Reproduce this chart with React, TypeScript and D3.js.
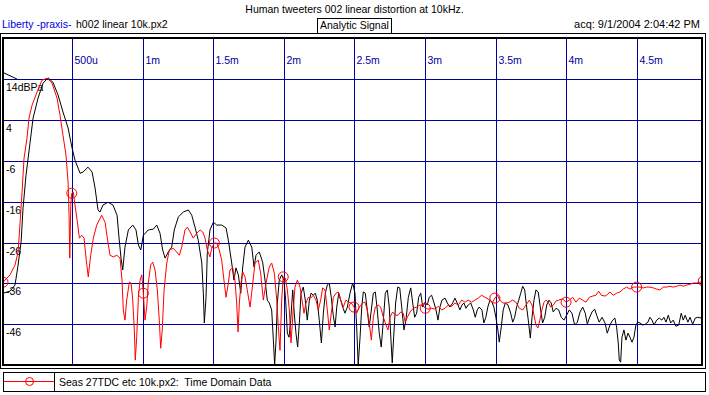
import React from "react";
import * as d3 from "d3";

// chart text
const title = "Human tweeters 002 linear distortion at 10kHz.";
const company = "Liberty -praxis-";
const fileName = "h002 linear 10k.px2";
const mode = "Analytic Signal";
const acquired = "acq: 9/1/2004 2:04:42 PM";
const legendLabel = "Seas 27TDC etc 10k.px2:  Time Domain Data";

// axes (time in ms, level in dB)
const xTicks = [0.5, 1, 1.5, 2, 2.5, 3, 3.5, 4, 4.5];
const xTickLabels = ["500u", "1m", "1.5m", "2m", "2.5m", "3m", "3.5m", "4m", "4.5m"];
const yTicks = [14, 4, -6, -16, -26, -36, -46];
const yTickLabels = ["14dBPa", "4", "-6", "-16", "-26", "-36", "-46"];
const markerTimes = [0, 0.5, 1, 1.5, 2, 2.5, 3, 3.5, 4, 4.5, 5];

// black trace: h002 linear 10k.px2
const blackLead: [number, number][] = [[0.011, 15.7], [0.11, 14.1]];
const blackCurve: [number, number][] = [
  [0.011, -38.4], [0.061, -37.9], [0.096, -36.4], [0.118, -31.5], [0.139, -25.9], [0.153, -17.5],
  [0.174, -9.5], [0.203, -1.4], [0.224, 4.5], [0.259, 9.4], [0.295, 13.1], [0.33, 14.4],
  [0.365, 13.3], [0.401, 10.2], [0.436, 6.0], [0.472, 2.1], [0.5, -2.8], [0.521, -5.8],
  [0.557, -9.0], [0.578, -8.7], [0.613, -7.5], [0.642, -8.7], [0.663, -12.6], [0.684, -18.0],
  [0.698, -18.5], [0.719, -16.8], [0.755, -16.1], [0.79, -16.8], [0.819, -19.3], [0.833, -24.9],
  [0.847, -29.8], [0.859, -32.7], [0.875, -27.1], [0.899, -22.9], [0.93, -21.7], [0.953, -22.9],
  [0.97, -26.6], [0.987, -27.8], [1.005, -24.2], [1.04, -22.9], [1.076, -22.7], [1.1, -21.7],
  [1.123, -23.7], [1.142, -27.8], [1.159, -29.8], [1.182, -28.3], [1.206, -27.1], [1.224, -22.9],
  [1.253, -19.7], [1.288, -18.5], [1.324, -18.0], [1.348, -19.3], [1.371, -22.2], [1.394, -25.4],
  [1.419, -31.0], [1.43, -38.4], [1.437, -45.7], [1.449, -39.4], [1.458, -28.6], [1.477, -22.9],
  [1.501, -21.0], [1.525, -21.7], [1.56, -21.7], [1.591, -22.4], [1.607, -25.4], [1.631, -31.0],
  [1.647, -35.2], [1.661, -32.2], [1.678, -33.9], [1.695, -38.4], [1.709, -32.0], [1.725, -27.1],
  [1.749, -25.4], [1.773, -27.1], [1.789, -32.0], [1.803, -29.1], [1.826, -28.3], [1.85, -30.8],
  [1.867, -35.2], [1.883, -40.1], [1.897, -40.8], [1.914, -42.5], [1.926, -49.9], [1.935, -56.0],
  [1.945, -49.9], [1.954, -40.8], [1.968, -35.2], [1.985, -33.9], [2.001, -35.2], [2.013, -40.1],
  [2.025, -48.2], [2.037, -49.2], [2.049, -45.0], [2.063, -37.6], [2.074, -43.3], [2.086, -48.2],
  [2.098, -51.6], [2.11, -45.7], [2.122, -38.4], [2.138, -36.9], [2.152, -40.1], [2.166, -45.0],
  [2.181, -40.1], [2.193, -38.4], [2.209, -38.9], [2.223, -38.4], [2.237, -40.1], [2.251, -45.0],
  [2.266, -50.6], [2.28, -43.3], [2.294, -38.4], [2.308, -36.4], [2.322, -35.9], [2.336, -39.4],
  [2.35, -43.8], [2.363, -46.7], [2.375, -41.8], [2.389, -38.4], [2.403, -40.1], [2.417, -41.8],
  [2.433, -43.3], [2.45, -41.8], [2.469, -38.4], [2.488, -35.9], [2.504, -38.4], [2.516, -46.7],
  [2.527, -56.0], [2.54, -49.2], [2.552, -41.8], [2.563, -38.1], [2.577, -38.4], [2.591, -42.5],
  [2.605, -46.7], [2.617, -43.3], [2.634, -38.4], [2.648, -38.1], [2.662, -42.5], [2.676, -48.2],
  [2.69, -51.6], [2.705, -45.0], [2.719, -38.4], [2.733, -37.6], [2.747, -41.8], [2.759, -49.9],
  [2.768, -55.5], [2.778, -49.2], [2.792, -40.8], [2.807, -36.9], [2.821, -37.1], [2.835, -41.8],
  [2.851, -47.4], [2.865, -45.0], [2.882, -39.4], [2.899, -37.1], [2.913, -40.8], [2.927, -44.3],
  [2.941, -43.3], [2.955, -39.4], [2.97, -38.4], [2.984, -41.8], [3.0, -40.6], [3.016, -41.3],
  [3.03, -39.4], [3.047, -38.9], [3.064, -40.8], [3.078, -42.5], [3.092, -45.0], [3.106, -41.8],
  [3.12, -40.1], [3.142, -39.6], [3.158, -40.8], [3.177, -41.8], [3.196, -40.8], [3.212, -39.6],
  [3.228, -40.8], [3.247, -42.5], [3.262, -41.3], [3.276, -40.8], [3.29, -42.1], [3.306, -41.3],
  [3.324, -40.8], [3.342, -42.5], [3.356, -44.3], [3.37, -42.5], [3.384, -41.8], [3.403, -42.5],
  [3.417, -45.7], [3.431, -44.3], [3.445, -41.8], [3.46, -40.1], [3.474, -40.6], [3.488, -41.8],
  [3.502, -44.3], [3.516, -47.4], [3.526, -50.4], [3.54, -46.7], [3.554, -42.5], [3.569, -40.8],
  [3.588, -41.3], [3.607, -43.3], [3.621, -45.5], [3.635, -44.3], [3.649, -41.8], [3.664, -40.1],
  [3.678, -38.4], [3.692, -36.7], [3.706, -37.6], [3.72, -41.8], [3.734, -45.7], [3.746, -49.4],
  [3.758, -44.3], [3.772, -40.1], [3.786, -37.6], [3.802, -38.1], [3.819, -42.5], [3.833, -45.7],
  [3.848, -44.3], [3.862, -41.3], [3.878, -40.1], [3.894, -40.8], [3.908, -43.0], [3.928, -42.1],
  [3.947, -42.5], [3.965, -44.3], [3.984, -45.0], [4.003, -43.8], [4.022, -42.5], [4.041, -43.3],
  [4.06, -46.2], [4.079, -45.5], [4.098, -43.0], [4.117, -41.8], [4.135, -43.3], [4.15, -46.0],
  [4.164, -44.5], [4.183, -43.0], [4.202, -42.3], [4.216, -43.8], [4.234, -45.5], [4.254, -44.3],
  [4.275, -45.7], [4.291, -48.2], [4.31, -46.2], [4.329, -45.0], [4.345, -44.5], [4.357, -46.7],
  [4.369, -50.6], [4.376, -54.8], [4.386, -55.3], [4.395, -49.2], [4.409, -47.4], [4.423, -49.9],
  [4.438, -48.2], [4.452, -49.2], [4.466, -50.4], [4.48, -49.2], [4.494, -46.2], [4.508, -45.5],
  [4.523, -45.7], [4.542, -46.2], [4.56, -46.0], [4.579, -45.5], [4.593, -44.3], [4.608, -45.0],
  [4.622, -46.2], [4.641, -45.0], [4.659, -44.5], [4.678, -45.0], [4.692, -44.3], [4.707, -45.5],
  [4.723, -43.8], [4.74, -45.7], [4.758, -45.0], [4.777, -46.5], [4.797, -46.2], [4.815, -43.3],
  [4.829, -45.0], [4.843, -43.8], [4.862, -45.5], [4.877, -44.3], [4.896, -46.0], [4.914, -44.5],
  [4.933, -44.3], [4.952, -44.5], [4.971, -43.3],
];

// red trace: Seas 27TDC etc 10k.px2
const redCurve: [number, number][] = [
  [0.011, -35.7], [0.061, -33.9], [0.096, -31.5], [0.118, -28.3], [0.132, -21.0], [0.146, -13.6],
  [0.16, -5.3], [0.181, -0.4], [0.195, 4.5], [0.217, 7.7], [0.252, 10.9], [0.287, 13.8],
  [0.323, 14.3], [0.358, 13.1], [0.394, 9.4], [0.415, 5.2], [0.436, 0.3], [0.457, -4.5],
  [0.472, -11.2], [0.479, -19.3], [0.484, -29.8], [0.491, -16.8], [0.498, -13.9], [0.509, -13.6],
  [0.521, -16.8], [0.538, -21.0], [0.552, -24.9], [0.569, -24.2], [0.585, -24.9], [0.599, -29.8],
  [0.615, -34.4], [0.632, -29.1], [0.651, -24.9], [0.675, -21.7], [0.71, -19.3], [0.734, -21.0],
  [0.75, -24.9], [0.769, -29.1], [0.792, -29.5], [0.817, -29.1], [0.84, -29.8], [0.854, -35.2],
  [0.863, -42.5], [0.875, -45.0], [0.887, -40.1], [0.906, -35.7], [0.918, -35.9], [0.93, -40.1],
  [0.941, -47.4], [0.948, -54.8], [0.958, -49.2], [0.97, -39.4], [0.982, -35.2], [0.994, -33.9],
  [1.005, -38.4], [1.017, -45.0], [1.029, -41.8], [1.04, -35.9], [1.057, -31.5], [1.072, -30.8],
  [1.088, -32.7], [1.104, -37.6], [1.118, -45.0], [1.128, -51.9], [1.139, -47.4], [1.152, -37.6],
  [1.171, -31.0], [1.189, -27.8], [1.217, -27.4], [1.241, -28.3], [1.26, -29.1], [1.277, -27.1],
  [1.3, -22.9], [1.317, -22.2], [1.336, -23.4], [1.359, -24.9], [1.383, -23.7], [1.407, -22.9],
  [1.426, -23.4], [1.442, -24.9], [1.458, -27.8], [1.477, -29.5], [1.489, -27.4], [1.508, -26.1],
  [1.525, -26.1], [1.543, -27.8], [1.56, -30.3], [1.576, -35.2], [1.591, -39.4], [1.607, -35.9],
  [1.619, -32.7], [1.638, -32.2], [1.654, -35.2], [1.666, -40.8], [1.676, -47.9], [1.685, -40.8],
  [1.697, -35.9], [1.709, -33.2], [1.725, -34.4], [1.741, -37.6], [1.761, -41.8], [1.777, -36.9],
  [1.796, -31.0], [1.819, -30.3], [1.836, -33.5], [1.855, -40.1], [1.874, -35.9], [1.897, -32.0],
  [1.914, -31.0], [1.933, -33.5], [1.95, -40.1], [1.961, -46.7], [1.973, -52.4], [1.985, -40.1],
  [1.996, -34.4], [2.011, -34.7], [2.025, -37.6], [2.039, -42.5], [2.051, -50.6], [2.063, -44.3],
  [2.079, -36.9], [2.096, -35.2], [2.115, -36.9], [2.129, -40.1], [2.143, -43.3], [2.157, -40.8],
  [2.173, -39.4], [2.19, -39.6], [2.209, -38.9], [2.228, -40.1], [2.244, -42.5], [2.261, -40.1],
  [2.275, -37.1], [2.292, -37.6], [2.308, -42.5], [2.322, -47.4], [2.336, -43.3], [2.351, -39.4],
  [2.37, -38.4], [2.386, -38.1], [2.403, -40.1], [2.421, -41.8], [2.44, -40.1], [2.46, -40.6],
  [2.478, -40.8], [2.497, -41.8], [2.516, -43.3], [2.535, -41.8], [2.559, -40.8], [2.575, -40.6],
  [2.591, -42.5], [2.605, -45.7], [2.62, -49.9], [2.634, -44.3], [2.648, -41.8], [2.669, -41.3],
  [2.686, -41.8], [2.705, -44.3], [2.724, -46.2], [2.738, -47.4], [2.752, -44.3], [2.771, -43.0],
  [2.79, -43.8], [2.809, -43.8], [2.828, -43.0], [2.846, -43.3], [2.86, -45.5], [2.875, -44.3],
  [2.894, -43.0], [2.917, -42.1], [2.941, -41.8], [2.965, -41.3], [2.984, -41.3], [3.002, -42.1],
  [3.023, -42.3], [3.047, -42.1], [3.071, -42.3], [3.094, -41.6], [3.118, -42.5], [3.142, -42.1],
  [3.165, -41.3], [3.189, -41.6], [3.212, -40.8], [3.236, -41.3], [3.26, -40.1], [3.283, -40.6],
  [3.306, -40.1], [3.331, -40.6], [3.354, -40.1], [3.377, -39.6], [3.401, -38.9], [3.425, -39.4],
  [3.46, -40.1], [3.479, -40.6], [3.495, -39.6], [3.512, -38.9], [3.531, -40.1], [3.55, -40.8],
  [3.574, -40.8], [3.597, -40.6], [3.621, -40.1], [3.644, -40.6], [3.668, -42.1], [3.692, -42.5],
  [3.715, -41.3], [3.739, -40.1], [3.758, -41.3], [3.772, -43.8], [3.786, -46.2], [3.8, -46.9],
  [3.814, -45.0], [3.828, -42.5], [3.843, -40.6], [3.857, -40.1], [3.873, -40.6], [3.89, -41.8],
  [3.909, -41.3], [3.928, -40.3], [3.947, -40.1], [3.975, -39.8], [3.999, -40.6], [4.022, -40.1],
  [4.046, -39.4], [4.069, -40.6], [4.093, -39.6], [4.117, -40.1], [4.14, -40.6], [4.164, -39.4],
  [4.188, -39.1], [4.211, -38.9], [4.23, -37.9], [4.249, -38.9], [4.275, -39.1], [4.287, -38.9],
  [4.31, -38.1], [4.333, -38.9], [4.357, -38.4], [4.381, -38.1], [4.404, -37.4], [4.428, -36.9],
  [4.452, -37.4], [4.475, -36.9], [4.499, -36.9], [4.523, -36.9], [4.546, -37.1], [4.57, -36.9],
  [4.593, -36.9], [4.617, -37.1], [4.641, -37.4], [4.664, -37.6], [4.688, -36.9], [4.712, -36.9],
  [4.735, -36.7], [4.758, -36.9], [4.782, -36.7], [4.806, -36.4], [4.829, -36.7], [4.853, -36.4],
  [4.877, -36.2], [4.9, -35.9], [4.924, -35.9], [4.947, -35.7], [4.971, -35.4],
];

const W = 709;
const H = 395;
const plot = { left: 3, right: 702, top: 37, bottom: 365 };
const font = "'Liberation Sans', Arial, sans-serif";
const gridBlue = "#00009c";

const App = () => {
  const x = d3.scaleLinear().domain([0.011, 4.962]).range([plot.left, plot.right]);
  const y = d3.scaleLinear().domain([-56, 24.4]).range([plot.bottom, plot.top]);

  const line = d3
    .line<[number, number]>()
    .x((d) => x(d[0]))
    .y((d) => y(d[1]));

  // markers sit on the red trace every 0.5 ms
  const markers = markerTimes.map((t) => d3.least(redCurve, (d) => Math.abs(d[0] - t))!);

  const px = (v: number) => Math.round(v) + 0.5;

  return (
    <svg
      width={W}
      height={H}
      style={{ position: "absolute", left: 0, top: 0, background: "#fff", whiteSpace: "pre" }}
      fontFamily={font}
      fontSize={10.5}
    >
      <defs>
        <clipPath id="plotClip">
          <rect x={plot.left} y={plot.top} width={plot.right - plot.left} height={plot.bottom - plot.top} />
        </clipPath>
      </defs>

      {/* header */}
      <text x={354.5} y={12.5} textAnchor="middle" fill="#000">{title}</text>
      <text x={2} y={28} fill="#0000e0">{company}</text>
      <text x={76} y={28} fill="#000">{fileName}</text>
      <rect x={317.5} y={18.5} width={74} height={15} fill="none" stroke="#000" />
      <text x={320} y={29} fill="#000">{mode}</text>
      <text x={700} y={28} textAnchor="end" fontSize={11} fill="#000">{acquired}</text>

      {/* grid */}
      <g stroke={gridBlue} strokeWidth={1} shapeRendering="crispEdges">
        {xTicks.map((t) => (
          <line key={"vx" + t} x1={px(x(t))} x2={px(x(t))} y1={plot.top} y2={plot.bottom} />
        ))}
        {yTicks.map((v) => (
          <line key={"hy" + v} x1={plot.left} x2={plot.right} y1={px(y(v))} y2={px(y(v))} />
        ))}
      </g>

      {/* tick labels */}
      {xTicks.map((t, i) => (
        <text key={"xl" + t} x={Math.round(x(t)) + 2.5} y={64} fill={gridBlue}>
          {xTickLabels[i]}
        </text>
      ))}
      {yTicks.map((v, i) => (
        <text key={"yl" + v} x={6} y={Math.round(y(v)) + 12} fill="#000">
          {yTickLabels[i]}
        </text>
      ))}

      {/* traces */}
      <g clipPath="url(#plotClip)" fill="none" strokeWidth={1}>
        <path d={line(blackLead) ?? ""} stroke="#000" />
        <path d={line(blackCurve) ?? ""} stroke="#000" />
        <path d={line(redCurve) ?? ""} stroke="#ff0000" />
        {markers.map((d, i) => (
          <circle key={"m" + i} cx={x(d[0])} cy={y(d[1])} r={5} stroke="#ff0000" />
        ))}
      </g>

      {/* frame */}
      <g fill="none" stroke="#000" shapeRendering="crispEdges">
        <rect x={0.5} y={33.5} width={705} height={335} strokeWidth={1} />
        <rect x={3} y={37.5} width={699} height={327} strokeWidth={2} />
      </g>

      {/* legend */}
      <g shapeRendering="crispEdges">
        <rect x={3.5} y={372.5} width={702} height={19} fill="none" stroke="#000" />
        <line x1={54.5} x2={54.5} y1={372.5} y2={391.5} stroke="#000" />
        <line x1={4} x2={54} y1={381.5} y2={381.5} stroke="#ff0000" />
      </g>
      <circle cx={29.5} cy={381.5} r={4} fill="none" stroke="#ff0000" />
      <text x={59} y={385.5} fill="#000" xmlSpace="preserve">{legendLabel}</text>
    </svg>
  );
};

export default App;
